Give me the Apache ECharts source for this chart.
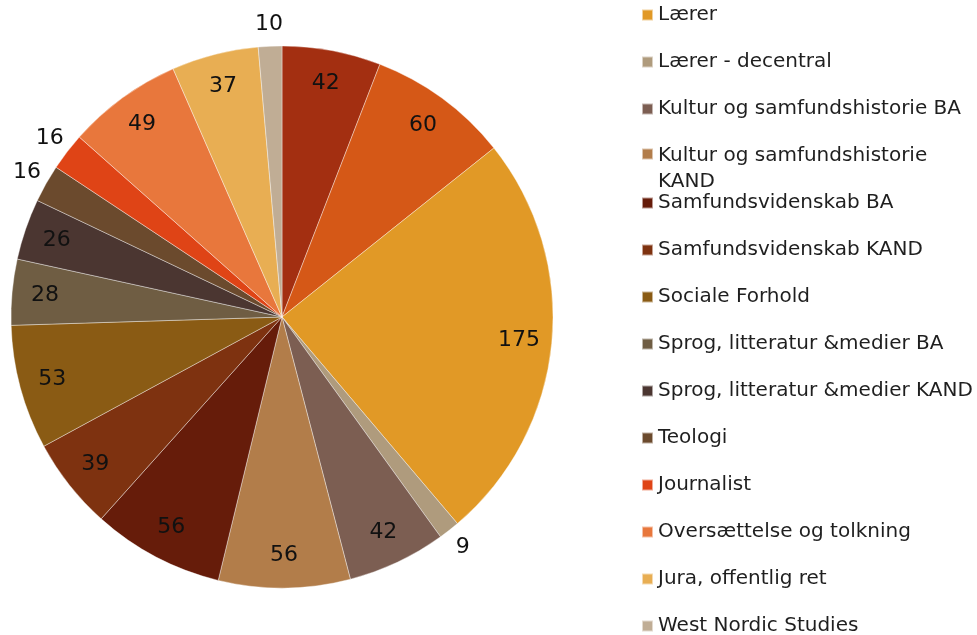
<!DOCTYPE html>
<html>
<head>
    <meta charset="UTF-8">
    <title>Fordeling pr. uddannelse</title>
    <style>
        body { margin: 0; background: #fff; }
        #chart { width: 977px; height: 635px; }
    </style>
</head>
<body>
    <div id="chart"></div>
    <script src="https://cdn.jsdelivr.net/npm/echarts@6/dist/echarts.min.js"></script>
    <script>
        // data (first two slices have no visible legend entry in the picture)
        const categories = [
            'Øvrige 1',
            'Øvrige 2',
            'Lærer',
            'Lærer - decentral',
            'Kultur og samfundshistorie BA',
            'Kultur og samfundshistorie KAND',
            'Samfundsvidenskab BA',
            'Samfundsvidenskab KAND',
            'Sociale Forhold',
            'Sprog, litteratur &medier BA',
            'Sprog, litteratur &medier KAND',
            'Teologi',
            'Journalist',
            'Oversættelse og tolkning',
            'Jura, offentlig ret',
            'West Nordic Studies'
        ];
        const values = [42, 60, 175, 9, 42, 56, 56, 39, 53, 28, 26, 16, 16, 49, 37, 10];
        const colors = [
            '#A32F11', '#D55817', '#E19926', '#AF9B7D', '#7C5E52', '#B27D4A',
            '#661C0A', '#7E3210', '#8A5B14', '#6F5D43', '#4B3631', '#6B4A2D',
            '#DF4416', '#E8773C', '#E8AE53', '#C0AD95'
        ];
        const legendTop = categories.slice(2, 5);
        const legendWrapped = categories.slice(5, 6);
        const legendBottom = categories.slice(6);

        const FONT = '"DejaVu Sans", sans-serif';
        const WRAPPED = 'Kultur og samfundshistorie KAND';

        const pieData = categories.map((name, i) => ({
            name: name,
            value: values[i],
            itemStyle: { color: colors[i] }
        }));

        // small slices get their value outside the pie
        const isSmall = v => v < 17;

        const labelData = (showSmall) => categories.map((name, i) => ({
            name: name,
            value: values[i],
            itemStyle: { color: 'rgba(0,0,0,0)' },
            label: { show: showSmall ? isSmall(values[i]) : !isSmall(values[i]) }
        }));

        // wrapped entry: keep the marker on the first line, like the original
        const legendFormatter = name => name === WRAPPED
            ? '{sp| }{a|Kultur og samfundshistorie}\n{b|KAND}'
            : name;

        const legendBase = {
            orient: 'vertical',
            left: 641,
            padding: 0,
            height: 470,
            icon: 'rect',
            itemWidth: 11,
            itemHeight: 11,
            itemGap: 23,
            selectedMode: false,
            textStyle: {
                fontFamily: FONT, fontSize: 20, color: '#1f1f1f', lineHeight: 24,
                rich: {
                    sp: { lineHeight: 56, width: 0, fontSize: 20, fontFamily: FONT },
                    a: { lineHeight: 24, verticalAlign: 'bottom', fontSize: 20, fontFamily: FONT, color: '#1f1f1f' },
                    b: { lineHeight: 32, fontSize: 20, fontFamily: FONT, color: '#1f1f1f' }
                }
            },
            formatter: legendFormatter
        };

        const labelSeries = (radius, showSmall) => ({
            type: 'pie',
            center: [282, 317],
            radius: radius,
            startAngle: 90,
            clockwise: true,
            silent: true,
            legendHoverLink: false,
            label: {
                position: 'inside',
                formatter: '{c}',
                fontFamily: FONT,
                fontSize: 22,
                color: '#111'
            },
            labelLine: { show: false },
            emphasis: { disabled: true },
            data: labelData(showSmall)
        });

        const chart = echarts.init(document.getElementById('chart'));
        chart.setOption({
            animation: false,
            legend: [
                Object.assign({}, legendBase, { top: 3, data: legendTop }),
                Object.assign({}, legendBase, { top: 110, data: legendWrapped }),
                Object.assign({}, legendBase, { top: 191, data: legendBottom })
            ],
            series: [
                {
                    type: 'pie',
                    center: [282, 317],
                    radius: 271,
                    startAngle: 90,
                    clockwise: true,
                    label: { show: false },
                    labelLine: { show: false },
                    emphasis: { disabled: true },
                    itemStyle: { borderColor: 'rgba(255,255,255,0.55)', borderWidth: 0.7 },
                    data: pieData
                },
                labelSeries([199, 271], false),
                labelSeries([271, 309], true)
            ]
        });
    </script>
</body>
</html>
